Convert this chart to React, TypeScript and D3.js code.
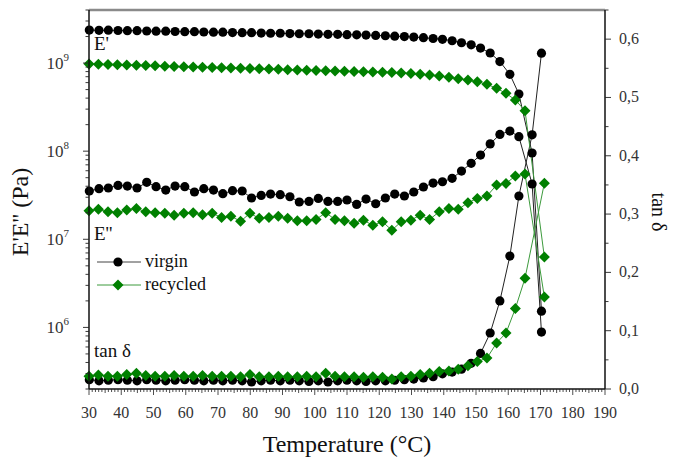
import React from "react";
import * as d3 from "d3";

// ---- data ----
const tempVirgin = [30.1, 33.1, 36.0, 39.0, 41.9, 44.9, 47.9, 50.8, 53.8, 56.7, 59.7, 62.7, 65.6, 68.6, 71.5, 74.5, 77.5, 80.4, 83.4, 86.3, 89.3, 92.3, 95.2, 98.2, 101.1, 104.1, 107.1, 110.0, 113.0, 115.9, 118.9, 121.9, 124.8, 127.8, 130.7, 133.7, 136.7, 139.6, 142.6, 145.5, 148.5, 151.4, 154.4, 157.4, 160.5, 163.3, 167.4, 170.3];
const tempRecycled = [30.0, 32.9, 35.9, 38.8, 41.7, 44.7, 47.6, 50.5, 53.5, 56.4, 59.4, 62.3, 65.2, 68.2, 71.1, 74.0, 77.0, 79.9, 82.8, 85.8, 88.7, 91.6, 94.6, 97.5, 100.4, 103.4, 106.3, 109.2, 112.2, 115.1, 118.0, 121.0, 123.9, 126.8, 129.8, 132.7, 135.6, 138.6, 141.6, 144.5, 147.5, 150.4, 153.4, 156.4, 159.3, 162.2, 165.2, 171.2];

const storageVirgin = [2.37e9, 2.35e9, 2.36e9, 2.34e9, 2.33e9, 2.33e9, 2.31e9, 2.30e9, 2.30e9, 2.28e9, 2.27e9, 2.27e9, 2.25e9, 2.24e9, 2.24e9, 2.22e9, 2.21e9, 2.21e9, 2.19e9, 2.18e9, 2.18e9, 2.16e9, 2.15e9, 2.15e9, 2.13e9, 2.12e9, 2.12e9, 2.10e9, 2.09e9, 2.08e9, 2.06e9, 2.04e9, 2.02e9, 2.00e9, 1.97e9, 1.94e9, 1.90e9, 1.86e9, 1.79e9, 1.70e9, 1.61e9, 1.48e9, 1.30e9, 1.04e9, 7.45e8, 4.45e8, 9.53e7, 1.53e6];
const lossVirgin = [3.53e7, 3.75e7, 3.82e7, 4.09e7, 4.02e7, 3.82e7, 4.43e7, 3.95e7, 3.62e7, 4.02e7, 3.95e7, 3.44e7, 3.75e7, 3.62e7, 3.29e7, 3.56e7, 3.53e7, 2.94e7, 3.15e7, 3.26e7, 3.21e7, 3.04e7, 2.65e7, 2.69e7, 2.91e7, 2.69e7, 2.69e7, 2.79e7, 2.49e7, 2.86e7, 2.53e7, 2.94e7, 3.26e7, 3.10e7, 3.44e7, 3.92e7, 4.35e7, 4.50e7, 4.92e7, 5.95e7, 7.28e7, 9.04e7, 1.21e8, 1.55e8, 1.69e8, 1.46e8, 4.24e7, 8.85e5];
const tanVirgin = [0.016, 0.014, 0.015, 0.016, 0.015, 0.014, 0.016, 0.015, 0.014, 0.015, 0.016, 0.015, 0.014, 0.015, 0.014, 0.015, 0.014, 0.012, 0.014, 0.015, 0.014, 0.015, 0.014, 0.013, 0.014, 0.012, 0.014, 0.015, 0.014, 0.013, 0.014, 0.014, 0.015, 0.016, 0.017, 0.019, 0.021, 0.026, 0.029, 0.034, 0.044, 0.061, 0.096, 0.151, 0.228, 0.331, 0.436, 0.576];

const storageRecycled = [9.75e8, 9.68e8, 9.62e8, 9.55e8, 9.50e8, 9.42e8, 9.36e8, 9.30e8, 9.22e8, 9.15e8, 9.10e8, 9.03e8, 8.97e8, 8.90e8, 8.84e8, 8.78e8, 8.72e8, 8.66e8, 8.60e8, 8.54e8, 8.48e8, 8.42e8, 8.36e8, 8.30e8, 8.24e8, 8.18e8, 8.12e8, 8.07e8, 8.01e8, 7.96e8, 7.92e8, 7.88e8, 7.80e8, 7.70e8, 7.60e8, 7.45e8, 7.30e8, 7.13e8, 6.89e8, 6.64e8, 6.42e8, 6.14e8, 5.74e8, 5.17e8, 4.53e8, 3.81e8, 2.88e8, 6.29e6];
const lossRecycled = [2.11e7, 2.19e7, 2.05e7, 2.00e7, 2.15e7, 2.24e7, 2.05e7, 2.00e7, 1.97e7, 1.87e7, 1.97e7, 2.00e7, 1.90e7, 1.97e7, 1.77e7, 1.83e7, 1.60e7, 1.97e7, 1.73e7, 1.77e7, 1.82e7, 1.73e7, 1.62e7, 1.62e7, 1.68e7, 2.00e7, 1.68e7, 1.62e7, 1.52e7, 1.65e7, 1.44e7, 1.58e7, 1.27e7, 1.58e7, 1.65e7, 1.88e7, 1.68e7, 2.05e7, 2.24e7, 2.19e7, 2.60e7, 2.91e7, 3.10e7, 4.13e7, 4.31e7, 5.22e7, 5.50e7, 2.21e6];
const tanRecycled = [0.022, 0.024, 0.022, 0.022, 0.025, 0.027, 0.023, 0.022, 0.022, 0.023, 0.022, 0.022, 0.023, 0.022, 0.022, 0.022, 0.021, 0.025, 0.021, 0.021, 0.022, 0.021, 0.021, 0.022, 0.021, 0.027, 0.022, 0.021, 0.021, 0.020, 0.021, 0.020, 0.017, 0.021, 0.022, 0.025, 0.027, 0.030, 0.031, 0.034, 0.040, 0.047, 0.053, 0.079, 0.096, 0.138, 0.190, 0.353];

const xTicks = [30, 40, 50, 60, 70, 80, 90, 100, 110, 120, 130, 140, 150, 160, 170, 180, 190];
const leftDecades = [6, 7, 8, 9];
const rightTicks = [0, 0.1, 0.2, 0.3, 0.4, 0.5, 0.6];
const rightTickLabels = ["0,0", "0,1", "0,2", "0,3", "0,4", "0,5", "0,6"];

// ---- layout ----
const W = 675, H = 460;
const L = 89, R = 605, T = 10, B = 389;
const BLACK = "#000";
const GREEN = "#008000";
const FONT = "Liberation Serif, DejaVu Serif, serif";

export default function App() {
  const x = d3.scaleLinear().domain([30, 190]).range([L, R]);
  const yL = d3.scaleLog().domain([2e5, 4e9]).range([B, T]);
  const yR = d3.scaleLinear().domain([0, 0.65]).range([B, T]);

  const mk = (ts: number[], vs: number[]) => ts.map((t, i) => [t, vs[i]] as [number, number]);
  const lineL = d3.line<[number, number]>().x((d) => x(d[0])).y((d) => yL(d[1]));
  const lineR = d3.line<[number, number]>().x((d) => x(d[0])).y((d) => yR(d[1]));

  const virginSets = [
    { pts: mk(tempVirgin, storageVirgin), sc: yL, ln: lineL },
    { pts: mk(tempVirgin, lossVirgin), sc: yL, ln: lineL },
    { pts: mk(tempVirgin, tanVirgin), sc: yR, ln: lineR },
  ];
  const recSets = [
    { pts: mk(tempRecycled, storageRecycled), sc: yL, ln: lineL },
    { pts: mk(tempRecycled, lossRecycled), sc: yL, ln: lineL },
    { pts: mk(tempRecycled, tanRecycled), sc: yR, ln: lineR },
  ];

  const diamond = (cx: number, cy: number, s = 5.5) =>
    `M${cx},${cy - s}L${cx + s},${cy}L${cx},${cy + s}L${cx - s},${cy}Z`;

  const xMinor = d3.range(30, 191, 1);
  const leftMinor: number[] = [];
  for (let e = 5; e <= 9; e++) for (let m = 1; m <= 9; m++) {
    const v = m * Math.pow(10, e);
    if (v >= 2e5 && v <= 4e9) leftMinor.push(v);
  }
  const rightMinor = d3.range(0, 0.651, 0.05);

  const tf = { fontFamily: FONT };

  return (
    <svg width={W} height={H} style={{ position: "absolute", left: 0, top: 0, background: "#fff", fontFamily: FONT }}>
      <rect x={0} y={0} width={W} height={H} fill="#fff" />
      {virginSets.map((s, i) => (
        <path key={"vl" + i} d={s.ln(s.pts) || ""} fill="none" stroke="#222" strokeWidth={1} />
      ))}
      {recSets.map((s, i) => (
        <path key={"rl" + i} d={s.ln(s.pts) || ""} fill="none" stroke="#3c9a3c" strokeWidth={1} />
      ))}
      {virginSets.map((s, i) => (
        <g key={"vm" + i}>
          {s.pts.map((d, j) => (
            <circle key={j} cx={x(d[0])} cy={s.sc(d[1])} r={4.6} fill={BLACK} />
          ))}
        </g>
      ))}
      {recSets.map((s, i) => (
        <g key={"rm" + i}>
          {s.pts.map((d, j) => (
            <path key={j} d={diamond(x(d[0]), s.sc(d[1]))} fill={GREEN} />
          ))}
        </g>
      ))}

      <line x1={L} x2={R} y1={T} y2={T} stroke="#8a8a8a" strokeWidth={2.5} />
      <line x1={L} x2={L} y1={T} y2={B} stroke="#111" strokeWidth={1.5} />
      <line x1={R} x2={R} y1={T} y2={B} stroke="#111" strokeWidth={1.5} />
      <line x1={L} x2={R} y1={B} y2={B} stroke="#111" strokeWidth={1.5} />

      {xMinor.map((v) => (
        <line key={"xm" + v} x1={x(v)} x2={x(v)} y1={B} y2={B + (v % 10 === 0 ? 6 : v % 5 === 0 ? 4 : 3)} stroke="#222" strokeWidth={0.8} />
      ))}
      {xTicks.map((v) => (
        <text key={"xt" + v} style={tf} x={x(v)} y={418} textAnchor="middle" fontSize={16} fill="#333">{v}</text>
      ))}

      {leftMinor.map((v) => {
        const major = leftDecades.some((e) => Math.abs(v - Math.pow(10, e)) < 1);
        return <line key={"lm" + v} x1={L - (major ? 6 : 3.5)} x2={L} y1={yL(v)} y2={yL(v)} stroke="#222" strokeWidth={0.9} />;
      })}
      {leftDecades.map((e) => (
        <text key={"lt" + e} style={tf} x={69} y={yL(Math.pow(10, e)) + 6} textAnchor="end" fontSize={17} fill="#333">
          10<tspan dy={-8} fontSize={11}>{e}</tspan>
        </text>
      ))}

      {rightMinor.map((v, i) => (
        <line key={"rm" + i} x1={R} x2={R + (i % 2 === 0 ? 6 : 3.5)} y1={yR(v)} y2={yR(v)} stroke="#222" strokeWidth={0.9} />
      ))}
      {rightTicks.map((v, i) => (
        <text key={"rt" + i} style={tf} x={619} y={yR(v) + 5} fontSize={16} fill="#333">{rightTickLabels[i]}</text>
      ))}

      <text style={tf} x={347} y={452} textAnchor="middle" fontSize={24} fill="#111">Temperature (°C)</text>
      <text style={tf} transform="translate(28,212) rotate(-90)" textAnchor="middle" fontSize={24} fill="#111">E'E'' (Pa)</text>
      <text style={tf} transform="translate(652,212) rotate(90)" textAnchor="middle" fontSize={20} fill="#111">tan δ</text>

      <text style={tf} x={94} y={50} fontSize={19} fill="#111">E'</text>
      <text style={tf} x={94} y={240} fontSize={19} fill="#111">E''</text>
      <text style={tf} x={94} y={357} fontSize={19} fill="#111">tan δ</text>

      <line x1={97} x2={141} y1={262} y2={262} stroke="#444" strokeWidth={1} />
      <circle cx={118} cy={262} r={4.6} fill={BLACK} />
      <text style={tf} x={145} y={267} fontSize={18} fill="#111">virgin</text>
      <line x1={97} x2={141} y1={285} y2={285} stroke="#3c9a3c" strokeWidth={1} />
      <path d={diamond(118, 285)} fill={GREEN} />
      <text style={tf} x={145} y={290} fontSize={18} fill="#111">recycled</text>
    </svg>
  );
}
